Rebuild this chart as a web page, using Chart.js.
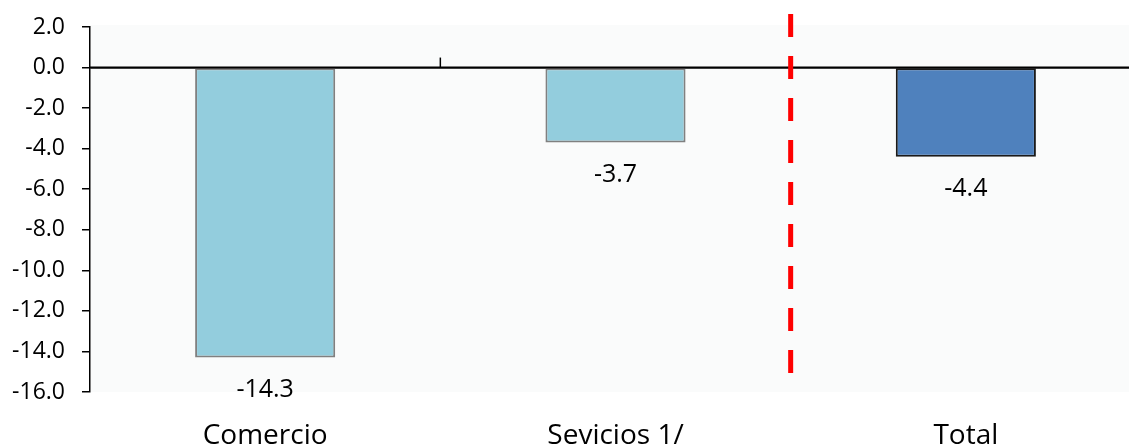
<!DOCTYPE html>
<html>
<head>
<meta charset="utf-8">
<script src="https://cdn.jsdelivr.net/npm/chart.js@4"></script>
<style>
  html, body { margin: 0; padding: 0; background: #fff; overflow: hidden; }
  #wrap { width: 1145px; height: 445px; position: relative; }
</style>
</head>
<body>
<div id="wrap"><canvas id="c"></canvas></div>
<script>
const categories = ["Comercio", "Sevicios 1/", "Total"];
const values = [-14.3, -3.7, -4.4];
const dataLabels = ["-14.3", "-3.7", "-4.4"];
const yTicks = [2, 0, -2, -4, -6, -8, -10, -12, -14, -16];

const FONT = "'Open Sans', sans-serif";

const extras = {
  id: 'extras',
  beforeDraw(chart) {
    const { ctx, chartArea: a } = chart;
    ctx.save();
    ctx.fillStyle = '#FAFBFB';
    ctx.fillRect(a.left, a.top - 2, a.right - a.left, a.bottom - a.top + 2);
    ctx.restore();
  },
  afterDatasetsDraw(chart) {
    const { ctx, chartArea: a, scales: { x, y } } = chart;
    const y0 = y.getPixelForValue(0);
    ctx.save();
    ctx.strokeStyle = '#000';
    ctx.lineWidth = 1.5;
    for (let i = 0; i < categories.length - 1; i++) {
      const bx = (x.getPixelForValue(i) + x.getPixelForValue(i + 1)) / 2;
      ctx.beginPath();
      ctx.moveTo(bx, y0);
      ctx.lineTo(bx, y0 - 10);
      ctx.stroke();
    }
    ctx.lineWidth = 2;
    ctx.beginPath();
    ctx.moveTo(a.left, y0);
    ctx.lineTo(a.right, y0);
    ctx.stroke();
    const sx = (x.getPixelForValue(1) + x.getPixelForValue(2)) / 2;
    ctx.strokeStyle = '#FF0000';
    ctx.lineWidth = 5;
    ctx.setLineDash([23, 19]);
    ctx.beginPath();
    ctx.moveTo(sx, a.top - 13);
    ctx.lineTo(sx, a.bottom - 18);
    ctx.stroke();
    ctx.setLineDash([]);
    ctx.fillStyle = '#000';
    ctx.font = '25px ' + FONT;
    ctx.textAlign = 'center';
    ctx.textBaseline = 'middle';
    chart.getDatasetMeta(0).data.forEach((bar, i) => {
      ctx.fillText(dataLabels[i], bar.x, bar.y + 32);
    });
    ctx.restore();
  }
};

new Chart(document.getElementById('c'), {
  type: 'bar',
  data: {
    labels: categories,
    datasets: [{
      data: values,
      backgroundColor: ['#93CDDD', '#93CDDD', '#4F81BD'],
      borderColor: ['#808080', '#808080', '#1a1a1a'],
      borderWidth: 2,
      borderSkipped: false,
      categoryPercentage: 1.0,
      barPercentage: 0.4
    }]
  },
  options: {
    responsive: true,
    maintainAspectRatio: false,
    animation: false,
    layout: { padding: { top: 27, right: 4, left: 0, bottom: 0 } },
    plugins: { legend: { display: false }, tooltip: { enabled: false } },
    scales: {
      x: {
        grid: { display: false },
        border: { display: false },
        ticks: { color: '#000', font: { family: FONT, size: 28 }, padding: 19 },
        afterFit(s) { s.height = 53; }
      },
      y: {
        min: yTicks[yTicks.length - 1],
        max: yTicks[0],
        afterBuildTicks(s) { s.ticks = yTicks.map(v => ({ value: v })); },
        grid: {
          drawOnChartArea: true,
          color: c => (c.tick && c.tick.value === 0) ? '#000' : 'rgba(0,0,0,0)',
          tickColor: '#000',
          tickLength: 8,
          lineWidth: 1.5
        },
        border: { display: true, color: '#000', width: 1.5 },
        ticks: {
          color: '#000',
          font: { family: FONT, size: 23 },
          padding: 17,
          callback: v => Number(v).toFixed(1)
        },
        afterFit(s) { s.width = 90; s.paddingTop = 0; s.paddingBottom = 0; }
      }
    }
  },
  plugins: [extras]
});
</script>
</body>
</html>
